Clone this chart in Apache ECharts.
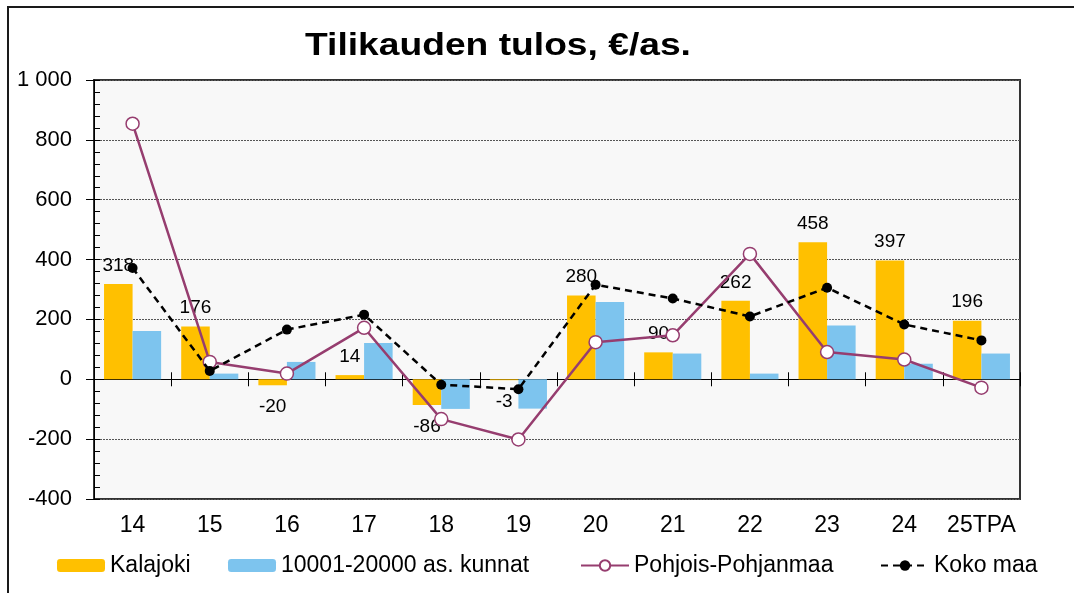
<!DOCTYPE html>
<html>
<head>
<meta charset="utf-8">
<script src="https://cdn.jsdelivr.net/npm/echarts@6/dist/echarts.min.js"></script>
<style>html,body{margin:0;padding:0;background:#fff;}#c{width:1074px;height:593px;}</style>
</head>
<body>
<div id="c"></div>
<script>
const categories = ['14','15','16','17','18','19','20','21','22','23','24','25TPA'];
const kalajoki = [318, 176, -20, 14, -86, -3, 280, 90, 262, 458, 397, 196];
const kunnat = [161, 19, 58, 121, -99, -98, 258, 86, 19, 180, 52, 86];
const pohjoisPohjanmaa = [854, 58, 19, 172, -133, -201, 124, 147, 419, 91, 66, -28];
const kokoMaa = [372, 28, 166, 216, -18, -33, 316, 270, 210, 306, 183, 130];
const yTicks = {min: -400, max: 1000, interval: 200};
const seriesNames = ['Kalajoki', '10001-20000 as. kunnat', 'Pohjois-Pohjanmaa', 'Koko maa'];

const FONT = "'Liberation Sans', Arial, sans-serif";
const GRID = {left: 94, right: 54, top: 80, bottom: 94};
const plotW = 1074 - GRID.left - GRID.right;
const plotH = 593 - GRID.top - GRID.bottom;
const zeroOffset = -plotH * yTicks.max / (yTicks.max - yTicks.min);

const legendLefts = [57, 228, 580, 880];
const legendStyle = {top: 554, padding: 0, itemWidth: 48, itemHeight: 13, itemGap: 5,
  textStyle: {fontSize: 23, color: '#000', fontFamily: FONT}};

const chart = echarts.init(document.getElementById('c'));
chart.setOption({
  animation: false,
  backgroundColor: '#ffffff',
  textStyle: {fontFamily: FONT},
  graphic: [
    {type: 'rect', shape: {x: 8, y: 7, width: 1100, height: 620}, style: {fill: 'none', stroke: '#1a1a1a', lineWidth: 2}, silent: true},
    {type: 'text', x: 498, y: 46, scaleX: 1.2, style: {text: 'Tilikauden tulos, €/as.', font: 'bold 31px ' + FONT, fill: '#000', textAlign: 'center', textVerticalAlign: 'middle'}, silent: true}
  ],
  legend: seriesNames.map((n, i) => Object.assign({left: legendLefts[i], data: [n]}, legendStyle)),
  grid: Object.assign({show: true, backgroundColor: '#f8f8f8', borderColor: '#333', borderWidth: 2, containLabel: false}, GRID),
  xAxis: [
    {type: 'category', data: categories,
     axisLine: {onZero: true, lineStyle: {color: '#000', width: 1}},
     axisTick: {show: true, length: 7, lineStyle: {color: '#000'}},
     axisLabel: {show: false}, splitLine: {show: false}},
    {type: 'category', data: categories, position: 'bottom',
     axisLine: {show: false, onZero: false}, axisTick: {show: false},
     axisLabel: {show: true, interval: 0, fontSize: 23, color: '#000', margin: 15, fontFamily: FONT}},
    {type: 'category', data: categories, position: 'top', offset: zeroOffset,
     axisLine: {show: false, onZero: false},
     axisTick: {show: true, length: 7, lineStyle: {color: '#000'}},
     axisLabel: {show: false}}
  ],
  yAxis: [
    {type: 'value', min: yTicks.min, max: yTicks.max, interval: yTicks.interval,
     axisLine: {show: true, lineStyle: {color: '#000', width: 1}},
     axisTick: {show: true, length: 8, lineStyle: {color: '#000'}},
     axisLabel: {fontSize: 22, color: '#000', margin: 22, fontFamily: FONT,
       formatter: v => v >= 1000 ? String(v).replace(/\B(?=(\d{3})+(?!\d))/g, ' ') : String(v)},
     splitLine: {show: true, lineStyle: {color: '#555', type: [2, 1], width: 1}}},
    {type: 'value', min: yTicks.min, max: yTicks.max, interval: yTicks.interval, position: 'right', offset: -plotW,
     axisLine: {show: false}, axisLabel: {show: false}, splitLine: {show: false},
     axisTick: {show: true, length: 6, lineStyle: {color: '#000'}},
     minorTick: {show: true, splitNumber: 5, length: 6, lineStyle: {color: '#000'}}}
  ],
  series: [
    {name: seriesNames[0], type: 'bar', data: kalajoki.map(v => ({value: v, label: {position: v < 0 ? 'bottom' : 'top', distance: v < 0 ? 12 : 9}})),
     itemStyle: {color: '#FFC000'}, barGap: '0%', barCategoryGap: '26%',
     label: {show: true, fontSize: 19, color: '#000', fontFamily: FONT}, z: 2},
    {name: seriesNames[1], type: 'bar', data: kunnat,
     itemStyle: {color: '#7DC4EE'}, barGap: '0%', barCategoryGap: '26%', z: 2},
    {name: seriesNames[2], type: 'line', data: pohjoisPohjanmaa,
     lineStyle: {color: '#963D6F', width: 2.5}, itemStyle: {color: '#fff', borderColor: '#963D6F', borderWidth: 1.5},
     symbol: 'circle', symbolSize: 13, z: 4},
    {name: seriesNames[3], type: 'line', data: kokoMaa,
     lineStyle: {color: '#000', width: 2.5, type: [7, 5]}, itemStyle: {color: '#000'},
     symbol: 'circle', symbolSize: 10, z: 5}
  ]
});
</script>
</body>
</html>
